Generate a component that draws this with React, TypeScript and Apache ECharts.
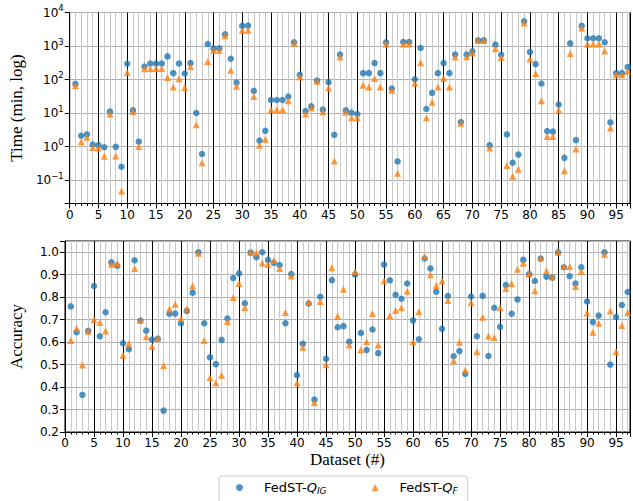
import React, { useEffect, useRef } from "react";
import * as echarts from "echarts";

const datasets = [
  1, 2, 3, 4, 5, 6, 7, 8, 9, 10, 11, 12, 13, 14, 15, 16, 17, 18, 19, 20,
  21, 22, 23, 24, 25, 26, 27, 28, 29, 30, 31, 32, 33, 34, 35, 36, 37, 38, 39, 40,
  41, 42, 43, 44, 45, 46, 47, 48, 49, 50, 51, 52, 53, 54, 55, 56, 57, 58, 59, 60,
  61, 62, 63, 64, 65, 66, 67, 68, 69, 70, 71, 72, 73, 74, 75, 76, 77, 78, 79, 80,
  81, 82, 83, 84, 85, 86, 87, 88, 89, 90, 91, 92, 93, 94, 95, 96, 97,
];

// Time (min) — FedST-Q_IG
const timeIG = [
  74, 2.1, 2.3, 1.15, 1.1, 0.95, 11, 0.98, 0.25, 295,
  12, 1.4, 245, 302, 302, 302, 490, 155, 302, 151,
  309, 10, 0.6, 1150, 850, 850, 2240, 417, 81, 3980,
  4070, 46, 1.5, 2.95, 24.5, 24.5, 24.5, 31, 1290, 138,
  11.5, 15.8, 93, 12.6, 83, 2.24, 560, 12, 10.2, 9.3,
  155, 155, 309, 155, 1290, 54, 0.36, 1320, 1320, 102,
  870, 13.2, 40, 155, 309, 155, 560, 5.4, 560, 692,
  1480, 1480, 1.1, 1100, 550, 2.3, 0.33, 0.575, 5500, 660,
  288, 76, 2.9, 2.8, 18, 0.46, 1200, 1.55, 3980, 1700,
  1700, 1700, 1290, 5.25, 155, 155, 234,
];

// Time (min) — FedST-Q_F
const timeF = [
  66, 1.4, 1.9, 0.93, 0.9, 0.51, 9.3, 0.52, 0.047, 162,
  11, 1.0, 209, 214, 214, 214, 115, 60, 105, 58,
  240, 4.5, 0.33, 347, 740, 740, 2040, 190, 63, 2950,
  2950, 31, 1.1, 1.66, 12.6, 12.6, 12.6, 23.4, 1200, 120,
  9.3, 14.5, 89, 10.7, 56, 0.37, 468, 10.5, 7.2, 7.2,
  68, 60, 107, 60, 1150, 48, 0.16, 1150, 1150, 78,
  316, 7.2, 21, 60, 110, 60, 468, 5.0, 479, 617,
  1450, 1450, 0.91, 850, 457, 0.27, 0.13, 0.21, 4900, 407,
  151, 23.4, 2.0, 2.0, 12.3, 0.19, 603, 0.85, 3470, 1150,
  1150, 1150, 708, 3.55, 138, 138, 178,
];

// Accuracy — FedST-Q_IG
const accIG = [
  0.759, 0.644, 0.365, 0.65, 0.85, 0.626, 0.733, 0.955, 0.94, 0.595,
  0.568, 0.964, 0.696, 0.651, 0.611, 0.615, 0.295, 0.726, 0.727, 0.683,
  0.739, 0.82, 1.0, 0.684, 0.532, 0.502, 0.61, 0.705, 0.885, 0.906,
  0.773, 0.999, 0.978, 1.0, 0.966, 0.952, 0.943, 0.684, 0.903, 0.453,
  0.593, 0.772, 0.344, 0.802, 0.526, 0.876, 0.666, 0.671, 0.602, 0.9,
  0.641, 0.565, 0.656, 0.551, 0.945, 0.875, 0.811, 0.793, 0.861, 0.697,
  0.613, 0.972, 0.928, 0.824, 0.659, 0.805, 0.537, 0.56, 0.458, 0.803,
  0.626, 0.806, 0.538, 0.753, 0.668, 0.854, 0.726, 0.79, 0.966, 0.903,
  0.872, 0.972, 0.891, 0.887, 1.0, 0.933, 0.893, 0.861, 0.933, 0.781,
  0.689, 0.718, 1.0, 0.5, 0.712, 0.765, 0.823,
];

// Accuracy — FedST-Q_F
const accF = [
  0.607, 0.662, 0.498, 0.648, 0.699, 0.687, 0.65, 0.946, 0.95, 0.54,
  0.593, 0.928, 0.696, 0.624, 0.581, 0.617, 0.496, 0.747, 0.769, 0.705,
  0.747, 0.85, 0.995, 0.607, 0.441, 0.419, 0.452, 0.692, 0.799, 0.861,
  0.753, 0.999, 0.998, 0.952, 0.946, 0.963, 0.928, 0.732, 0.894, 0.419,
  0.577, 0.779, 0.331, 0.781, 0.499, 0.931, 0.715, 0.835, 0.587, 0.914,
  0.566, 0.602, 0.727, 0.587, 0.872, 0.717, 0.741, 0.753, 0.826, 0.602,
  0.735, 0.981, 0.9, 0.852, 0.872, 0.785, 0.517, 0.599, 0.475, 0.775,
  0.557, 0.711, 0.627, 0.621, 0.753, 0.839, 0.86, 0.924, 0.951, 0.903,
  0.829, 0.973, 0.918, 0.891, 1.0, 0.937, 0.937, 0.848, 0.914, 0.73,
  0.644, 0.684, 0.991, 0.739, 0.557, 0.674, 0.732,
];

const seriesNames = ["FedST-Q_IG", "FedST-Q_F"];
const xTitle = "Dataset (#)";
const yTitleTop = "Time (min, log)";
const yTitleBottom = "Accuracy";

const BLUE = "#1f77b4";
const ORANGE = "#ff7f0e";
const SANS = "DejaVu Sans";
const SERIF = "Liberation Serif";
const X_MAX = 97.4;

const GRID_LEFT = 61;
const GRID_W = 571;
const GRID_H = 191;

function fmtX(v: number) {
  return Math.abs(v / 5 - Math.round(v / 5)) < 1e-6 ? String(Math.round(v)) : "";
}

function fmtLog(v: number) {
  const l = Math.log10(v);
  const e = Math.round(l);
  if (Math.abs(l - e) > 1e-6) return "";
  const ex = e < 0 ? "\u2212" + -e : String(e);
  return `{b|10}{s|${ex}}`;
}

function fmtAcc(v: number) {
  if (v > 1.0001) return "";
  return v.toFixed(1);
}

function makeXAxes(gridIndex: number, withName: boolean) {
  return [
    {
      gridIndex,
      type: "value",
      position: "bottom",
      min: 0,
      max: X_MAX,
      interval: 5,
      z: 1,
      name: withName ? xTitle : "",
      nameLocation: "middle",
      nameGap: 19,
      nameTextStyle: { fontFamily: SERIF, fontSize: 17, color: "#000" },
      axisLine: { show: true, lineStyle: { color: "#000", width: 1 } },
      axisTick: { show: true, inside: false, length: 5, lineStyle: { color: "#000" } },
      axisLabel: { formatter: fmtX, fontFamily: SANS, fontSize: 12, color: "#000", margin: 5 },
      splitLine: { show: true, lineStyle: { color: "#000", width: 1 } },
    },
    {
      gridIndex,
      type: "value",
      position: "bottom",
      min: 0,
      max: X_MAX,
      interval: 1,
      z: 0,
      axisLine: { show: false },
      axisTick: { show: true, inside: false, length: 2.5, lineStyle: { color: "#000" } },
      axisLabel: { show: false },
      splitLine: { show: true, lineStyle: { color: "#c8c8c8", width: 1 } },
    },
  ];
}

export default function App() {
  const ref = useRef<HTMLDivElement>(null);

  useEffect(() => {
    if (!ref.current) return;
    const chart = echarts.init(ref.current, null, { renderer: "svg" });

    const option: any = {
      animation: false,
      backgroundColor: "#fff",
      grid: [
        {
          left: GRID_LEFT, top: 12.5, width: GRID_W, height: GRID_H,
          show: true, borderColor: "#000", borderWidth: 1, backgroundColor: "transparent",
        },
        {
          left: GRID_LEFT, top: 241, width: GRID_W, height: GRID_H,
          show: true, borderColor: "#000", borderWidth: 1, backgroundColor: "transparent",
        },
      ],
      xAxis: [...makeXAxes(0, false), ...makeXAxes(1, true)],
      yAxis: [
        {
          gridIndex: 0,
          type: "log",
          logBase: 10,
          min: 0.02,
          max: 10000,
          name: yTitleTop,
          nameLocation: "middle",
          nameGap: 40,
          nameTextStyle: { fontFamily: SERIF, fontSize: 17, color: "#000" },
          axisLine: { show: true, lineStyle: { color: "#000" } },
          axisTick: { show: true, length: 5, lineStyle: { color: "#000" } },
          axisLabel: {
            formatter: fmtLog,
            margin: 6,
            color: "#000",
            rich: {
              b: { fontFamily: SANS, fontSize: 12, color: "#000" },
              s: { fontFamily: SANS, fontSize: 8.5, color: "#000", padding: [0, 0, 9, 0] },
            },
          },
          splitLine: { show: true, lineStyle: { color: "#b0b0b0", width: 1 } },
        },
        {
          gridIndex: 1,
          type: "value",
          min: 0.2,
          max: 1.05,
          interval: 0.1,
          name: yTitleBottom,
          nameLocation: "middle",
          nameGap: 40,
          nameTextStyle: { fontFamily: SERIF, fontSize: 17, color: "#000" },
          axisLine: { show: true, lineStyle: { color: "#000" } },
          axisTick: { show: true, length: 5, lineStyle: { color: "#000" } },
          axisLabel: { formatter: fmtAcc, margin: 6, fontFamily: SANS, fontSize: 12, color: "#000" },
          splitLine: { show: true, lineStyle: { color: "#b0b0b0", width: 1 } },
        },
      ],
      legend: {
        data: [
          { name: seriesNames[0], icon: "circle" },
          { name: seriesNames[1], icon: "triangle" },
        ],
        left: 219,
        top: 476,
        orient: "horizontal",
        itemWidth: 7,
        itemHeight: 7,
        itemGap: 45,
        padding: [5, 10, 12, 17],
        borderColor: "#cccccc",
        borderWidth: 1,
        borderRadius: 3,
        backgroundColor: "rgba(255,255,255,0.8)",
        formatter: (name: string) =>
          name === seriesNames[0] ? "{a|FedST-}{q|Q}{s|IG}" : "{a|FedST-}{q|Q}{s|F}",
        textStyle: {
          fontFamily: SANS,
          fontSize: 13,
          color: "#000",
          rich: {
            a: { fontFamily: SANS, fontSize: 13, color: "#000", padding: [0, 0, 0, 16] },
            q: { fontFamily: SANS, fontSize: 13, fontStyle: "italic", color: "#000" },
            s: { fontFamily: SANS, fontSize: 9, fontStyle: "italic", color: "#000", padding: [6, 0, 0, 0] },
          },
        },
      },
      series: [
        {
          name: seriesNames[0],
          type: "scatter",
          xAxisIndex: 0,
          yAxisIndex: 0,
          symbol: "circle",
          symbolSize: 6.5,
          itemStyle: { color: BLUE },
          data: datasets.map((d, i) => [d, timeIG[i]]),
          z: 3,
        },
        {
          name: seriesNames[1],
          type: "scatter",
          xAxisIndex: 0,
          yAxisIndex: 0,
          symbol: "triangle",
          symbolSize: 7,
          itemStyle: { color: ORANGE },
          data: datasets.map((d, i) => [d, timeF[i]]),
          z: 4,
        },
        {
          name: seriesNames[0],
          type: "scatter",
          xAxisIndex: 2,
          yAxisIndex: 1,
          symbol: "circle",
          symbolSize: 6.5,
          itemStyle: { color: BLUE },
          data: datasets.map((d, i) => [d, accIG[i]]),
          z: 3,
        },
        {
          name: seriesNames[1],
          type: "scatter",
          xAxisIndex: 2,
          yAxisIndex: 1,
          symbol: "triangle",
          symbolSize: 7,
          itemStyle: { color: ORANGE },
          data: datasets.map((d, i) => [d, accF[i]]),
          z: 4,
        },
      ],
    };

    chart.setOption(option);
    return () => chart.dispose();
  }, []);

  return (
    <div
      ref={ref}
      style={{ position: "absolute", left: 0, top: 0, width: 633, height: 501 }}
    />
  );
}
